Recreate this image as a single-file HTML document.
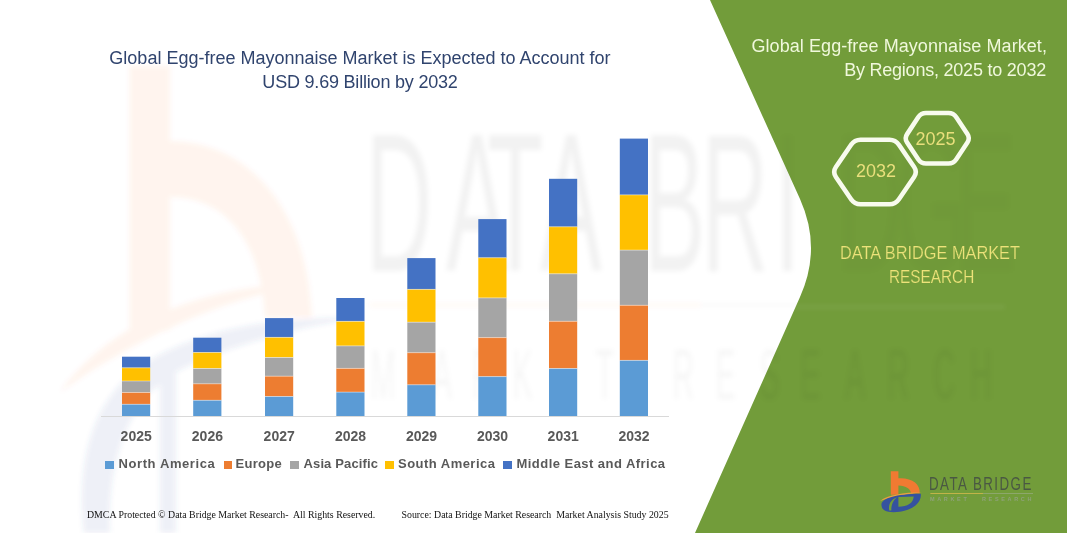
<!DOCTYPE html>
<html><head><meta charset="utf-8">
<style>
*{margin:0;padding:0;box-sizing:border-box}
html,body{width:1067px;height:533px;overflow:hidden;background:#fff}
body{position:relative;font-family:"Liberation Sans",sans-serif}
.abs{position:absolute;white-space:nowrap}
svg{position:absolute;left:0;top:0}
.yr{position:absolute;top:426.3px;width:60px;text-align:center;font-weight:700;font-size:14px;color:#595959;line-height:20px}
.sq{position:absolute;top:460.8px;width:8.5px;height:8.5px}
.lg{position:absolute;top:455.2px;font-weight:700;font-size:13px;color:#595959;line-height:18px;white-space:nowrap}
.title{position:absolute;left:0;width:720px;text-align:center;font-size:18px;color:#30446E;line-height:22px;white-space:nowrap}
.rt{position:absolute;right:21px;text-align:right;font-size:18px;color:#F0F8DC;line-height:22px;white-space:nowrap}
.ft{position:absolute;top:508px;font-family:"Liberation Serif",serif;font-size:9.85px;color:#111;line-height:14px;white-space:nowrap}
.yel{position:absolute;white-space:nowrap;color:#EDE27A;-webkit-text-stroke:0.2px #729C3A;font-size:17.5px;line-height:20px;transform-origin:0 0}
</style></head><body>
<!-- watermark + background shapes -->
<svg width="1067" height="533" viewBox="0 0 1067 533">
  <defs><filter id="bl" x="-20%" y="-20%" width="140%" height="140%"><feGaussianBlur stdDeviation="2.5"/></filter></defs>
  <g filter="url(#bl)">
  <g fill="#F26A1B" opacity="0.065">
    <path d="M129.5,66 L170,66 L170,141 C245,141 308,205 312,318 L265,318 C262,245 228,197 170,197 L170,330 L129.5,336 Z"/>
    <path d="M60,392 C110,322 205,284 312,283 C215,300 135,340 60,392 Z"/>
  </g>
  <g fill="#3A5BA8" opacity="0.085">
    <path d="M84,533 C76,460 92,395 150,360 C210,325 290,316 360,318 C300,326 230,345 176,372 L176,533 Z M110,533 C108,480 118,430 150,392 L160,385 L160,533 Z" fill-rule="evenodd"/>
  </g>
  <g font-family="Liberation Sans" font-size="197" fill="#000" opacity="0.05">
    <text x="0" y="0" transform="translate(365.5,271) scale(0.47,1)">D</text><text x="0" y="0" transform="translate(446.0,271) scale(0.47,1)">A</text><text x="0" y="0" transform="translate(487.1,271) scale(0.47,1)">T</text><text x="0" y="0" transform="translate(540.0,271) scale(0.47,1)">A</text><text x="0" y="0" transform="translate(643.5,271) scale(0.47,1)">B</text><text x="0" y="0" transform="translate(701.5,271) scale(0.47,1)">R</text><text x="0" y="0" transform="translate(774.6,271) scale(0.47,1)">I</text><text x="0" y="0" transform="translate(836.5,271) scale(0.47,1)">D</text><text x="0" y="0" transform="translate(895.3,271) scale(0.47,1)">G</text><text x="0" y="0" transform="translate(954.5,271) scale(0.47,1)">E</text>
  </g>
  <g font-family="Liberation Sans" font-size="71" fill="#000" opacity="0.035">
    <text x="0" y="0" transform="translate(370.8,399) scale(0.42,1)">M</text><text x="0" y="0" transform="translate(432.0,399) scale(0.42,1)">A</text><text x="0" y="0" transform="translate(471.6,399) scale(0.42,1)">R</text><text x="0" y="0" transform="translate(512.6,399) scale(0.42,1)">K</text><text x="0" y="0" transform="translate(554.6,399) scale(0.42,1)">E</text><text x="0" y="0" transform="translate(595.4,399) scale(0.42,1)">T</text><text x="0" y="0" transform="translate(672.6,399) scale(0.42,1)">R</text><text x="0" y="0" transform="translate(715.6,399) scale(0.42,1)">E</text><text x="0" y="0" transform="translate(759.5,399) scale(0.42,1)">S</text><text x="0" y="0" transform="translate(800.6,399) scale(0.42,1)">E</text><text x="0" y="0" transform="translate(845.0,399) scale(0.42,1)">A</text><text x="0" y="0" transform="translate(887.6,399) scale(0.42,1)">R</text><text x="0" y="0" transform="translate(933.5,399) scale(0.42,1)">C</text><text x="0" y="0" transform="translate(970.6,399) scale(0.42,1)">H</text>
  </g>
  <line x1="370" y1="305" x2="700" y2="305" stroke="#F26A1B" stroke-width="2" opacity="0.08"/>
  <line x1="700" y1="305" x2="1000" y2="305" stroke="#000" stroke-width="2" opacity="0.04"/>
  </g>
</svg>
<svg width="1067" height="533" viewBox="0 0 1067 533">
  <defs><clipPath id="gc"><path d="M710,0 L1067,0 L1067,533 L695,533 L800,297 Q822,248 800,199 Z"/></clipPath></defs>
  <path d="M710,0 L1067,0 L1067,533 L695,533 L800,297 Q822,248 800,199 Z" fill="#729C3A"/>
  <g clip-path="url(#gc)"><g filter="url(#bl)"><line x1="700" y1="307" x2="1005" y2="307" stroke="#fff" stroke-width="2" opacity="0.12"/><g font-family="Liberation Sans" font-size="197" fill="#000" opacity="0.0175"><text x="0" y="0" transform="translate(365.5,271) scale(0.47,1)">D</text><text x="0" y="0" transform="translate(446.0,271) scale(0.47,1)">A</text><text x="0" y="0" transform="translate(487.1,271) scale(0.47,1)">T</text><text x="0" y="0" transform="translate(540.0,271) scale(0.47,1)">A</text><text x="0" y="0" transform="translate(643.5,271) scale(0.47,1)">B</text><text x="0" y="0" transform="translate(701.5,271) scale(0.47,1)">R</text><text x="0" y="0" transform="translate(774.6,271) scale(0.47,1)">I</text><text x="0" y="0" transform="translate(836.5,271) scale(0.47,1)">D</text><text x="0" y="0" transform="translate(895.3,271) scale(0.47,1)">G</text><text x="0" y="0" transform="translate(954.5,271) scale(0.47,1)">E</text></g><g font-family="Liberation Sans" font-size="71" fill="#000" opacity="0.045"><text x="0" y="0" transform="translate(370.8,399) scale(0.42,1)">M</text><text x="0" y="0" transform="translate(432.0,399) scale(0.42,1)">A</text><text x="0" y="0" transform="translate(471.6,399) scale(0.42,1)">R</text><text x="0" y="0" transform="translate(512.6,399) scale(0.42,1)">K</text><text x="0" y="0" transform="translate(554.6,399) scale(0.42,1)">E</text><text x="0" y="0" transform="translate(595.4,399) scale(0.42,1)">T</text><text x="0" y="0" transform="translate(672.6,399) scale(0.42,1)">R</text><text x="0" y="0" transform="translate(715.6,399) scale(0.42,1)">E</text><text x="0" y="0" transform="translate(759.5,399) scale(0.42,1)">S</text><text x="0" y="0" transform="translate(800.6,399) scale(0.42,1)">E</text><text x="0" y="0" transform="translate(845.0,399) scale(0.42,1)">A</text><text x="0" y="0" transform="translate(887.6,399) scale(0.42,1)">R</text><text x="0" y="0" transform="translate(933.5,399) scale(0.42,1)">C</text><text x="0" y="0" transform="translate(970.6,399) scale(0.42,1)">H</text></g></g></g>
<svg width="1067" height="533" viewBox="0 0 1067 533">
  <line x1="101" y1="416.5" x2="669" y2="416.5" stroke="#D9D9D9" stroke-width="1"/>
<rect x="122" y="356.7" width="28.2" height="11.10" fill="#4472C4"/>
<rect x="122" y="367.8" width="28.2" height="13.20" fill="#FFC000"/>
<rect x="122" y="381" width="28.2" height="11.50" fill="#A5A5A5"/>
<rect x="122" y="392.5" width="28.2" height="11.80" fill="#ED7D31"/>
<rect x="122" y="404.3" width="28.2" height="11.70" fill="#5B9BD5"/>
<rect x="193.2" y="337.7" width="28.2" height="14.80" fill="#4472C4"/>
<rect x="193.2" y="352.5" width="28.2" height="16.00" fill="#FFC000"/>
<rect x="193.2" y="368.5" width="28.2" height="15.30" fill="#A5A5A5"/>
<rect x="193.2" y="383.8" width="28.2" height="16.50" fill="#ED7D31"/>
<rect x="193.2" y="400.3" width="28.2" height="15.70" fill="#5B9BD5"/>
<rect x="265" y="318.1" width="28.2" height="19.30" fill="#4472C4"/>
<rect x="265" y="337.4" width="28.2" height="20.10" fill="#FFC000"/>
<rect x="265" y="357.5" width="28.2" height="18.70" fill="#A5A5A5"/>
<rect x="265" y="376.2" width="28.2" height="20.30" fill="#ED7D31"/>
<rect x="265" y="396.5" width="28.2" height="19.50" fill="#5B9BD5"/>
<rect x="336.3" y="298" width="28.2" height="23.40" fill="#4472C4"/>
<rect x="336.3" y="321.4" width="28.2" height="24.50" fill="#FFC000"/>
<rect x="336.3" y="345.9" width="28.2" height="22.50" fill="#A5A5A5"/>
<rect x="336.3" y="368.4" width="28.2" height="23.70" fill="#ED7D31"/>
<rect x="336.3" y="392.1" width="28.2" height="23.90" fill="#5B9BD5"/>
<rect x="407.3" y="258.1" width="28.2" height="31.30" fill="#4472C4"/>
<rect x="407.3" y="289.4" width="28.2" height="32.80" fill="#FFC000"/>
<rect x="407.3" y="322.2" width="28.2" height="30.50" fill="#A5A5A5"/>
<rect x="407.3" y="352.7" width="28.2" height="32.10" fill="#ED7D31"/>
<rect x="407.3" y="384.8" width="28.2" height="31.20" fill="#5B9BD5"/>
<rect x="478.3" y="219.1" width="28.2" height="38.65" fill="#4472C4"/>
<rect x="478.3" y="257.75" width="28.2" height="40.15" fill="#FFC000"/>
<rect x="478.3" y="297.9" width="28.2" height="39.70" fill="#A5A5A5"/>
<rect x="478.3" y="337.6" width="28.2" height="39.00" fill="#ED7D31"/>
<rect x="478.3" y="376.6" width="28.2" height="39.40" fill="#5B9BD5"/>
<rect x="549" y="178.8" width="28.2" height="48.00" fill="#4472C4"/>
<rect x="549" y="226.8" width="28.2" height="47.00" fill="#FFC000"/>
<rect x="549" y="273.8" width="28.2" height="47.50" fill="#A5A5A5"/>
<rect x="549" y="321.3" width="28.2" height="47.20" fill="#ED7D31"/>
<rect x="549" y="368.5" width="28.2" height="47.50" fill="#5B9BD5"/>
<rect x="619.8" y="138.6" width="28.2" height="56.30" fill="#4472C4"/>
<rect x="619.8" y="194.9" width="28.2" height="55.20" fill="#FFC000"/>
<rect x="619.8" y="250.1" width="28.2" height="55.20" fill="#A5A5A5"/>
<rect x="619.8" y="305.3" width="28.2" height="55.10" fill="#ED7D31"/>
<rect x="619.8" y="360.4" width="28.2" height="55.60" fill="#5B9BD5"/>
<g stroke="#fff" stroke-width="0.9" stroke-opacity="0.45"><line x1="122" y1="367.8" x2="150.2" y2="367.8"/><line x1="122" y1="381" x2="150.2" y2="381"/><line x1="122" y1="392.5" x2="150.2" y2="392.5"/><line x1="122" y1="404.3" x2="150.2" y2="404.3"/><line x1="193.2" y1="352.5" x2="221.4" y2="352.5"/><line x1="193.2" y1="368.5" x2="221.4" y2="368.5"/><line x1="193.2" y1="383.8" x2="221.4" y2="383.8"/><line x1="193.2" y1="400.3" x2="221.4" y2="400.3"/><line x1="265" y1="337.4" x2="293.2" y2="337.4"/><line x1="265" y1="357.5" x2="293.2" y2="357.5"/><line x1="265" y1="376.2" x2="293.2" y2="376.2"/><line x1="265" y1="396.5" x2="293.2" y2="396.5"/><line x1="336.3" y1="321.4" x2="364.5" y2="321.4"/><line x1="336.3" y1="345.9" x2="364.5" y2="345.9"/><line x1="336.3" y1="368.4" x2="364.5" y2="368.4"/><line x1="336.3" y1="392.1" x2="364.5" y2="392.1"/><line x1="407.3" y1="289.4" x2="435.5" y2="289.4"/><line x1="407.3" y1="322.2" x2="435.5" y2="322.2"/><line x1="407.3" y1="352.7" x2="435.5" y2="352.7"/><line x1="407.3" y1="384.8" x2="435.5" y2="384.8"/><line x1="478.3" y1="257.75" x2="506.5" y2="257.75"/><line x1="478.3" y1="297.9" x2="506.5" y2="297.9"/><line x1="478.3" y1="337.6" x2="506.5" y2="337.6"/><line x1="478.3" y1="376.6" x2="506.5" y2="376.6"/><line x1="549" y1="226.8" x2="577.2" y2="226.8"/><line x1="549" y1="273.8" x2="577.2" y2="273.8"/><line x1="549" y1="321.3" x2="577.2" y2="321.3"/><line x1="549" y1="368.5" x2="577.2" y2="368.5"/><line x1="619.8" y1="194.9" x2="648.0" y2="194.9"/><line x1="619.8" y1="250.1" x2="648.0" y2="250.1"/><line x1="619.8" y1="305.3" x2="648.0" y2="305.3"/><line x1="619.8" y1="360.4" x2="648.0" y2="360.4"/></g>
  <g fill="none" stroke="#F8FBEE" stroke-width="4.6" stroke-linejoin="round">
    <path d="M835.9,177.0 Q832.5,172 835.9,167.0 L851.1,144.7 Q854.5,139.7 860.5,139.7 L889.5,139.7 Q895.5,139.7 898.9,144.7 L914.1,167.0 Q917.5,172 914.1,177.0 L898.9,199.3 Q895.5,204.3 889.5,204.3 L860.5,204.3 Q854.5,204.3 851.1,199.3 Z"/>
    <path d="M907.1,142.5 Q904.3,138.3 907.1,134.1 L918.2,117.2 Q921,113 926.0,113.0 L948.5,113.0 Q953.5,113 956.3,117.2 L967.4,134.1 Q970.2,138.3 967.4,142.5 L956.3,159.3 Q953.5,163.5 948.5,163.5 L926.0,163.5 Q921,163.5 918.2,159.3 Z"/>
  </g>
  <!-- logo -->
  <g>
    <path d="M890.8,471.3 L898.4,471.3 L898.4,478.3 C912,477.5 920.5,484 919.7,493.6 L911,493.6 C911,489 906,485.4 898.4,485.4 L898.4,494.7 L890.8,494.7 Z" fill="#F07A32"/>
    <path d="M880,501 C888,495 903,492.5 922,492.3 C905,494.5 890,497.5 880,501 Z" fill="#E8A040"/>
    <path d="M881.5,505.6 C880.4,498 896.8,494.1 920.8,493.8 C921.8,503.4 911,512.1 893.5,512.3 C885.9,512.3 881.8,510 881.5,505.6 Z M898.4,496.9 L913.7,496.6 C913.1,503.4 907.7,506.7 898.4,506.7 Z M889.2,510.5 C888.2,504 891,499.5 897,497.3 C893.2,500.5 891.3,504.5 891.3,510.5 Z" fill="#35529F" fill-rule="evenodd"/>
    <line x1="930.4" y1="493.5" x2="983" y2="493.5" stroke="#C9B54A" stroke-width="0.9"/>
    <line x1="983" y1="493.5" x2="1033" y2="493.5" stroke="#8FA870" stroke-width="0.9"/>
  </g>
</svg>
<div class="title" style="top:47px">Global Egg-free Mayonnaise Market is Expected to Account for</div>
<div class="title" style="top:71px;letter-spacing:-0.2px">USD 9.69 Billion by 2032</div>
<div class="yr" style="left:106.2px">2025</div>
<div class="yr" style="left:177.4px">2026</div>
<div class="yr" style="left:249.2px">2027</div>
<div class="yr" style="left:320.5px">2028</div>
<div class="yr" style="left:391.5px">2029</div>
<div class="yr" style="left:462.5px">2030</div>
<div class="yr" style="left:533.2px">2031</div>
<div class="yr" style="left:604.0px">2032</div>
<div class="sq" style="left:105.2px;background:#5B9BD5"></div>
<div class="lg" style="left:118.5px;letter-spacing:0.6px">North America</div>
<div class="sq" style="left:223.5px;background:#ED7D31"></div>
<div class="lg" style="left:235.5px;letter-spacing:0.28px">Europe</div>
<div class="sq" style="left:290.2px;background:#A5A5A5"></div>
<div class="lg" style="left:303.5px;letter-spacing:0.13px">Asia Pacific</div>
<div class="sq" style="left:385px;background:#FFC000"></div>
<div class="lg" style="left:398px;letter-spacing:0.47px">South America</div>
<div class="sq" style="left:503px;background:#4472C4"></div>
<div class="lg" style="left:516.5px;letter-spacing:0.46px">Middle East and Africa</div>
<div class="rt" style="top:35px;right:20px;letter-spacing:0.07px">Global Egg-free Mayonnaise Market,</div>
<div class="rt" style="top:59px;letter-spacing:-0.22px">By Regions, 2025 to 2032</div>
<div class="abs" style="left:856px;top:161px;font-size:18px;color:#E9DF7C;line-height:20px">2032</div>
<div class="abs" style="left:915.5px;top:129px;font-size:18px;color:#E9DF7C;line-height:20px">2025</div>
<div class="yel" style="left:840.2px;top:243px;transform:scaleX(0.933)">DATA BRIDGE MARKET</div>
<div class="yel" style="left:889px;top:267px;transform:scaleX(0.877)">RESEARCH</div>
<div class="abs" style="left:929px;top:474px;font-size:18.5px;color:#4A5843;line-height:20px;transform-origin:0 0;transform:scaleX(0.72);letter-spacing:2.05px">DATA BRIDGE</div>
<div class="abs" style="left:930px;top:496px;font-size:5.5px;color:#8FA27A;line-height:7px;letter-spacing:2.65px;font-weight:700">MARKET&nbsp;&nbsp;&nbsp;RESEARCH</div>
<div class="ft" style="left:87px">DMCA Protected © Data Bridge Market Research-&nbsp; All Rights Reserved.</div>
<div class="ft" style="left:401.5px">Source: Data Bridge Market Research&nbsp; Market Analysis Study 2025</div>
</body></html>
